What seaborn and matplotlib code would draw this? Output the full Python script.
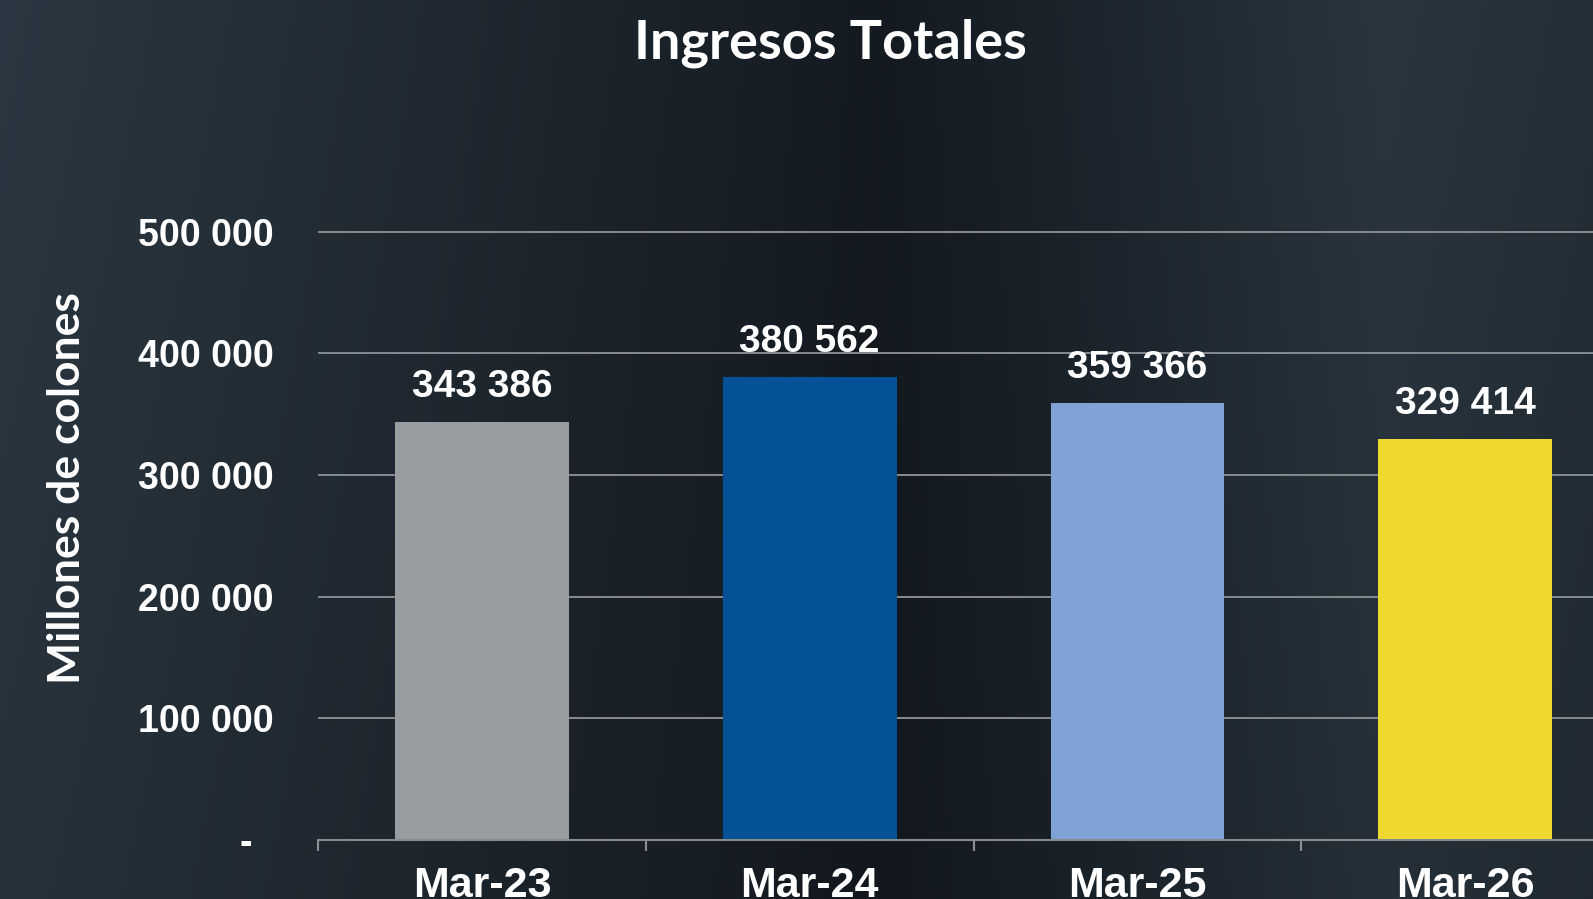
import numpy as np
import pandas as pd
import matplotlib
matplotlib.use("Agg")
import matplotlib.pyplot as plt
import seaborn as sns

# data
periodos = ["Mar-23", "Mar-24", "Mar-25", "Mar-26"]
ingresos = [343386, 380562, 359366, 329414]
colores = ["#999d9f", "#045195", "#80a3d6", "#f0d92e"]
ticks_y = [0, 100000, 200000, 300000, 400000, 500000]
etiquetas_y = ["-  ", "100 000", "200 000", "300 000", "400 000", "500 000"]


def miles(v):
    return f"{v:,.0f}".replace(",", " ")


sns.set_theme(style="dark")
plt.rcParams.update({"font.family": ["Liberation Sans", "DejaVu Sans"]})

W, H = 1593, 899
fig = plt.figure(figsize=(W / 100, H / 100), dpi=100)

# dark gradient background
bg = fig.add_axes([0, 0, 1, 1], zorder=-5)
xs = np.linspace(0, 1, 400)
stops = [0.0, 0.25, 0.45, 0.55, 0.7, 0.87, 1.0]
r = np.interp(xs, stops, [41, 32, 24, 19, 28, 40, 35])
g = np.interp(xs, stops, [53, 41, 31, 25, 37, 51, 45])
b = np.interp(xs, stops, [63, 49, 38, 31, 45, 61, 54])
ys = np.linspace(1.04, 0.93, 200)[:, None]
img = np.stack([r[None, :] * ys, g[None, :] * ys, b[None, :] * ys], axis=-1) / 255
bg.imshow(np.clip(img, 0, 1), aspect="auto", extent=[0, 1, 0, 1])
bg.set_axis_off()

ax = fig.add_axes([318 / W, 59 / H, 1 - 318 / W, (840 - 207.2) / H])
ax.set_facecolor("none")

df = pd.DataFrame({"periodo": periodos, "ingresos": ingresos})
sns.barplot(data=df, x="periodo", y="ingresos", hue="periodo",
            palette=colores, width=0.53, legend=False, ax=ax,
            saturation=1, linewidth=0, edgecolor="none")

for i, v in enumerate(ingresos):
    ax.annotate(miles(v), (i, v), xytext=(0, 12), textcoords="offset points",
                ha="center", va="bottom", color="white", fontsize=28,
                fontweight="bold")

ax.set_xlim(-0.5, 3.39)
ax.set_ylim(0, 520000)
ax.set_yticks(ticks_y)
ax.set_yticklabels(etiquetas_y)
ax.set_xticks(range(len(periodos)))
ax.set_xticks([-0.5, 0.5, 1.5, 2.5], minor=True)
ax.tick_params(axis="y", length=0, pad=32, labelsize=27, labelcolor="white")
ax.tick_params(axis="x", which="major", length=0, pad=19, labelsize=31,
               labelcolor="white")
ax.tick_params(axis="x", which="minor", bottom=True, length=8, width=1.5,
               color="#8c9196")
for lab in ax.get_xticklabels() + ax.get_yticklabels():
    lab.set_fontweight("bold")

ax.set_axisbelow(True)
ax.yaxis.grid(True, color="#868b90", linewidth=1.4)
ax.xaxis.grid(False)
for s in ["top", "right", "left"]:
    ax.spines[s].set_visible(False)
ax.spines["bottom"].set_color("#868b90")
ax.spines["bottom"].set_linewidth(1.5)
ax.set_xlabel("")
ax.set_ylabel("")

fig.text(0.521, 1 - 59 / H, "Ingresos Totales", ha="center", va="baseline",
         color="white", fontsize=39, fontweight="bold", family="Lato")
fig.text(67 / W, 1 - 488 / H, "Millones de colones", rotation=90,
         ha="center", va="center", color="white", fontsize=32,
         fontweight="bold", family="Lato")

fig.savefig("out.png", dpi=100)
